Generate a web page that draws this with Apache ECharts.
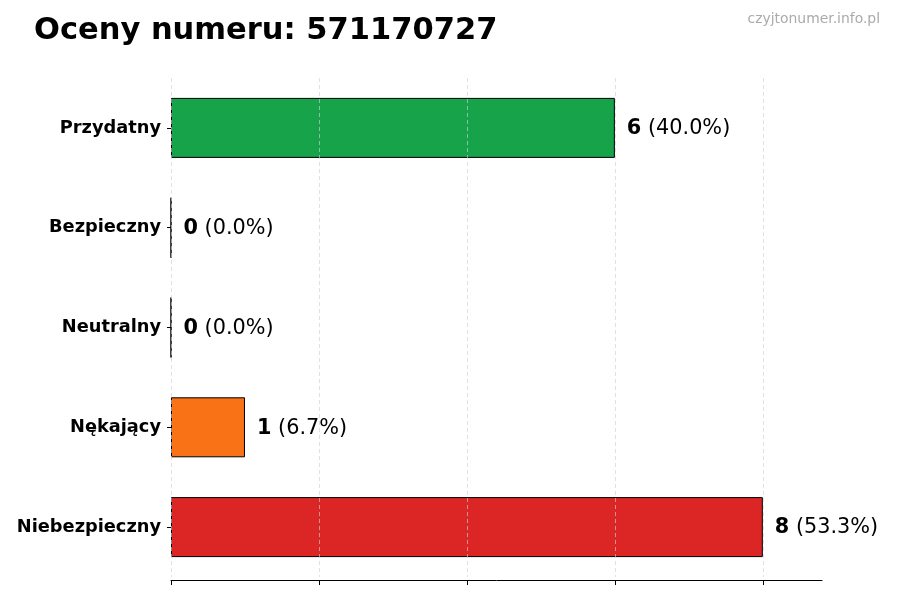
<!DOCTYPE html>
<html><head><meta charset="utf-8">
<script src="https://cdn.jsdelivr.net/npm/echarts@6/dist/echarts.min.js"></script>
<style>html,body{margin:0;padding:0;background:#fff}#c{width:900px;height:600px}</style>
</head><body><div id="c"></div>
<script>
const categories = ['Przydatny', 'Bezpieczny', 'Neutralny', 'Nękający', 'Niebezpieczny'];
const counts = [6, 0, 0, 1, 8];
const percents = ['40.0', '0.0', '0.0', '6.7', '53.3'];
const colors = ['#16a34a', '#16a34a', '#9ca3af', '#f97316', '#dc2626'];
const xTicks = [0, 2, 4, 6, 8];

const chart = echarts.init(document.getElementById('c'));
chart.setOption({
  animation: false,
  textStyle: { fontFamily: 'DejaVu Sans' },
  title: [
    { text: 'Oceny numeru: 571170727', left: 29, top: 11,
      textStyle: { fontFamily: 'DejaVu Sans', fontWeight: 'bold', fontSize: 30.5, color: '#000' } },
    { text: 'czyjtonumer.info.pl', right: 15, top: 7,
      textStyle: { fontFamily: 'DejaVu Sans', fontWeight: 'normal', fontSize: 13.9, color: '#aaaaaa' } }
  ],
  grid: { left: 171, right: 78, top: 78, bottom: 23, containLabel: false },
  xAxis: {
    type: 'value', min: 0, max: 8.8, offset: 3,
    axisLine: { show: true, lineStyle: { color: '#000', width: 1 } },
    axisTick: { show: true, length: 5, customValues: xTicks, lineStyle: { color: '#000' } },
    axisLabel: { show: false },
    splitLine: { show: false }
  },
  yAxis: {
    type: 'category', inverse: true, data: categories,
    axisLine: { show: false },
    axisTick: { show: true, alignWithLabel: true, length: 4, lineStyle: { color: '#000' } },
    axisLabel: { margin: 10, fontFamily: 'DejaVu Sans', fontWeight: 'bold', fontSize: 17.8, color: '#000' }
  },
  series: [{
    type: 'bar', barWidth: 60,
    data: counts.map((v, i) => ({ value: v, itemStyle: { color: colors[i] } })),
    itemStyle: { borderColor: '#000', borderWidth: 1 },
    label: {
      show: true, position: 'right', distance: 12, offset: [0, 1],
      formatter: p => '{b|' + counts[p.dataIndex] + '}{n| (' + percents[p.dataIndex] + '%)}',
      rich: {
        b: { fontFamily: 'DejaVu Sans', fontWeight: 'bold', fontSize: 20.8, color: '#000' },
        n: { fontFamily: 'DejaVu Sans', fontSize: 20.8, color: '#000' }
      }
    },
    markLine: {
      silent: true, symbol: 'none', label: { show: false },
      lineStyle: { color: '#d0d0d0', type: [4, 3], width: 0.8, opacity: 0.8 },
      data: xTicks.map(v => ({ xAxis: v }))
    },
    z: 2
  }]
});
</script></body></html>
